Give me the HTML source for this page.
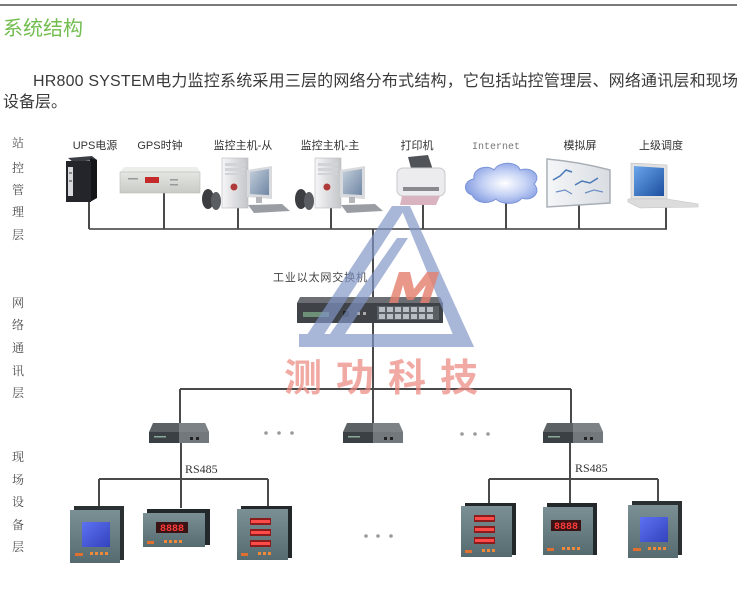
<!DOCTYPE html>
<html><head><meta charset="utf-8">
<style>
html,body{margin:0;padding:0;background:#fff;}
svg{display:block;}
.s{font-family:"Liberation Sans","Noto Sans CJK SC",sans-serif;}
.sr{font-family:"Liberation Serif","Noto Serif CJK SC",serif;}
.m{font-family:"Liberation Mono","Noto Sans CJK SC",monospace;}
</style></head><body>
<svg width="743" height="600" viewBox="0 0 743 600" xmlns="http://www.w3.org/2000/svg">
<defs>
 <linearGradient id="gTower" x1="0" x2="1"><stop offset="0" stop-color="#f6f6f8"/><stop offset="1" stop-color="#c4c5c8"/></linearGradient>
 <linearGradient id="gScreen" x1="0" y1="0" x2="1" y2="1"><stop offset="0" stop-color="#c3cfdc"/><stop offset="1" stop-color="#6f86a3"/></linearGradient>
 <radialGradient id="gCloud" cx="0.55" cy="0.5" r="0.6"><stop offset="0" stop-color="#ffffff"/><stop offset="0.5" stop-color="#c5d2f5"/><stop offset="1" stop-color="#7f98e0"/></radialGradient>
 <linearGradient id="gLap" x1="0" y1="0" x2="1" y2="1"><stop offset="0" stop-color="#6aa6ea"/><stop offset="1" stop-color="#1d4fa0"/></linearGradient>
 <linearGradient id="gBezel" x1="0" y1="0" x2="0" y2="1"><stop offset="0" stop-color="#7a9095"/><stop offset="1" stop-color="#566b70"/></linearGradient>
 <linearGradient id="gLcd" x1="0" y1="0" x2="1" y2="1"><stop offset="0" stop-color="#5d72f2"/><stop offset="1" stop-color="#3442bd"/></linearGradient>
 <linearGradient id="gGps" x1="0" y1="0" x2="0" y2="1"><stop offset="0" stop-color="#e4e6e2"/><stop offset="1" stop-color="#c9cbc6"/></linearGradient>
 <linearGradient id="gWall" x1="0" y1="0" x2="1" y2="0"><stop offset="0" stop-color="#f4f6f8"/><stop offset="1" stop-color="#d9dde2"/></linearGradient>
</defs>

<!-- header -->
<line x1="0" y1="5" x2="737" y2="5" stroke="#7a7a7a" stroke-width="2"/>
<text x="3" y="35" class="s" font-size="20" fill="#72bd4f">系统结构</text>
<text x="33" y="86" class="s" font-size="16" fill="#3a3a3a" textLength="705" lengthAdjust="spacing">HR800 SYSTEM电力监控系统采用三层的网络分布式结构，它包括站控管理层、网络通讯层和现场</text>
<text x="3" y="107" class="s" font-size="16" fill="#3a3a3a">设备层。</text>

<!-- left layer labels -->
<g class="sr" font-size="12" fill="#4a4a4a" text-anchor="middle">
 <text x="18" y="147">站</text><text x="18" y="172">控</text><text x="18" y="194">管</text><text x="18" y="216">理</text><text x="18" y="239">层</text>
 <text x="18" y="307">网</text><text x="18" y="329">络</text><text x="18" y="352">通</text><text x="18" y="375">讯</text><text x="18" y="397">层</text>
 <text x="18" y="461">现</text><text x="18" y="484">场</text><text x="18" y="506">设</text><text x="18" y="529">备</text><text x="18" y="551">层</text>
</g>

<!-- device labels -->
<g class="s" font-size="11" fill="#333" text-anchor="middle">
 <text x="95" y="149">UPS电源</text>
 <text x="160" y="149">GPS时钟</text>
 <text x="243" y="149">监控主机-从</text>
 <text x="330" y="149">监控主机-主</text>
 <text x="417" y="149">打印机</text>
 <text x="580" y="149">模拟屏</text>
 <text x="661" y="149">上级调度</text>
</g>
<text x="496" y="149" class="m" font-size="10" fill="#777" text-anchor="middle">Internet</text>

<!-- connector lines -->
<g stroke="#4a4a4a" stroke-width="2" fill="none">
 <line x1="89" y1="229" x2="667" y2="229" stroke="#6a6a6a"/>
 <line x1="89" y1="200" x2="89" y2="229"/>
 <line x1="164" y1="193" x2="164" y2="229"/>
 <line x1="238" y1="208" x2="238" y2="229"/>
 <line x1="331" y1="208" x2="331" y2="229"/>
 <line x1="423" y1="204" x2="423" y2="229"/>
 <line x1="506" y1="200" x2="506" y2="229"/>
 <line x1="579" y1="204" x2="579" y2="229"/>
 <line x1="666" y1="206" x2="666" y2="229"/>
 <line x1="373" y1="229" x2="373" y2="424"/>
 <line x1="180" y1="389" x2="571" y2="389"/>
 <line x1="180" y1="389" x2="180" y2="424"/>
 <line x1="571" y1="389" x2="571" y2="424"/>
 <line x1="181" y1="443" x2="181" y2="508"/>
 <line x1="99" y1="479" x2="268" y2="479"/>
 <line x1="99" y1="479" x2="99" y2="510"/>
 <line x1="268" y1="479" x2="268" y2="508"/>
 <line x1="570" y1="443" x2="570" y2="505"/>
 <line x1="489" y1="479" x2="658" y2="479"/>
 <line x1="489" y1="479" x2="489" y2="505"/>
 <line x1="658" y1="479" x2="658" y2="505"/>
</g>

<!-- UPS -->
<g>
 <polygon points="68,158 92,156 97,160 73,162" fill="#3c3e46"/>
 <polygon points="90,158 97,160 97,198 90,202" fill="#15161a"/>
 <rect x="66" y="161" width="25" height="41" fill="#23252b"/>
 <rect x="68" y="167" width="5" height="29" fill="#d8dade"/>
 <rect x="69" y="172" width="3" height="2" fill="#888"/>
 <rect x="69" y="180" width="3" height="2" fill="#888"/>
</g>
<!-- GPS -->
<g>
 <polygon points="124,167 197,167 200,172 120,172" fill="#eceeea"/>
 <rect x="120" y="172" width="80" height="21" fill="url(#gGps)" stroke="#b8bab5" stroke-width="0.6"/>
 <rect x="145" y="177" width="14" height="6" fill="#c42a2a"/>
 <rect x="128" y="178" width="10" height="1.5" fill="#999"/>
 <rect x="170" y="179" width="8" height="1.5" fill="#999"/>
 <rect x="170" y="184" width="8" height="1.5" fill="#999"/>
</g>
<!-- PCs -->
<g id="pc">
 <ellipse cx="208" cy="199" rx="6" ry="10" fill="#3b3d40"/>
 <ellipse cx="216" cy="201" rx="5" ry="9" fill="#5a5d61"/>
 <rect x="222" y="158" width="26" height="50" fill="url(#gTower)" stroke="#b8b9bd" stroke-width="0.6"/>
 <rect x="225" y="163" width="20" height="3" fill="#d2d3d7"/>
 <rect x="225" y="168" width="20" height="3" fill="#d2d3d7"/>
 <rect x="225" y="173" width="20" height="2" fill="#d2d3d7"/>
 <circle cx="234" cy="187" r="4" fill="#b03a3a" stroke="#e2e2e2"/>
 <polygon points="247,170 272,166 272,199 247,197" fill="#d8dadd"/>
 <polygon points="250,172 269,169 269,195 250,194" fill="url(#gScreen)"/>
 <rect x="256" y="197" width="6" height="6" fill="#b5b6ba"/>
 <polygon points="248,205 282,204 290,211 254,213" fill="#9a9ea4"/>
</g>
<use href="#pc" x="93" y="0"/>
<!-- printer -->
<g>
 <polygon points="408,157 428,155 433,170 412,172" fill="#505458"/>
 <rect x="397" y="168" width="48" height="28" rx="6" fill="#ececee" stroke="#c8c8cc"/>
 <rect x="403" y="187" width="36" height="4" fill="#8a8a8e"/>
 <polygon points="402,196 440,196 436,205 400,205" fill="#d9b3bf"/>
</g>
<!-- cloud -->
<path d="M472,195 C462,192 464,180 474,179 C472,168 488,164 494,170 C500,160 518,162 520,170 C532,166 542,176 534,184 C542,192 532,202 522,198 C516,206 500,204 496,199 C488,205 476,203 472,195 Z" fill="url(#gCloud)" stroke="#7b94d8" stroke-width="1"/>
<!-- wall screen -->
<g>
 <path d="M547,159 Q580,162 610,170 L610,203 Q580,205 547,207 Z" fill="url(#gWall)" stroke="#a9afb6" stroke-width="1.5"/>
 <polyline points="553,180 560,176 566,170 572,172" fill="none" stroke="#4a79b8" stroke-width="1.5"/>
 <polyline points="575,185 582,181 590,183 598,178" fill="none" stroke="#4a79b8" stroke-width="1.5"/>
 <polyline points="556,192 565,190 572,194" fill="none" stroke="#6b8fc4" stroke-width="1.2"/>
 <polyline points="585,193 594,190 603,192" fill="none" stroke="#6b8fc4" stroke-width="1.2"/>
</g>
<!-- laptop -->
<g>
 <polygon points="631,163 667,165 667,199 631,199" fill="#e0e0e0" stroke="#bdbdbd" stroke-width="0.6"/>
 <polygon points="634,166 664,168 664,196 634,196" fill="url(#gLap)"/>
 <polygon points="628,199 667,199 698,204 698,207 640,208 628,202" fill="#dcdcdc" stroke="#c2c2c2" stroke-width="0.6"/>
</g>

<!-- switch -->
<g>
 <polygon points="300,297 440,297 443,303 297,303" fill="#6b6f73"/>
 <rect x="297" y="303" width="146" height="20" fill="#3f4347"/>
 <rect x="377" y="306" width="62" height="14" fill="#5a5f63"/>
 <g fill="#b9bec4">
  <rect x="379" y="307" width="6" height="5"/><rect x="387" y="307" width="6" height="5"/><rect x="395" y="307" width="6" height="5"/><rect x="403" y="307" width="6" height="5"/><rect x="411" y="307" width="6" height="5"/><rect x="419" y="307" width="6" height="5"/><rect x="427" y="307" width="6" height="5"/>
  <rect x="379" y="314" width="6" height="5"/><rect x="387" y="314" width="6" height="5"/><rect x="395" y="314" width="6" height="5"/><rect x="403" y="314" width="6" height="5"/><rect x="411" y="314" width="6" height="5"/><rect x="419" y="314" width="6" height="5"/><rect x="427" y="314" width="6" height="5"/>
 </g>
 <rect x="303" y="312" width="26" height="5" fill="#6e8f78"/>
 <rect x="343" y="311" width="6" height="6" fill="#222"/>
 <rect x="357" y="312" width="3" height="3" fill="#aaa"/><rect x="363" y="312" width="3" height="3" fill="#aaa"/>
</g>
<text x="273" y="281" class="s" font-size="11" fill="#444" textLength="94" lengthAdjust="spacing">工业以太网交换机</text>

<!-- serial servers -->
<g id="srv">
 <polygon points="153,423 205,423 209,432 149,432" fill="#5b6164"/>
 <rect x="149" y="432" width="60" height="11" fill="#3b4044"/>
 <polygon points="179,423 205,423 209,432 179,432" fill="#7c8286"/>
 <rect x="179" y="432" width="30" height="11" fill="#72787c"/>
 <rect x="154" y="436" width="12" height="1.5" fill="#8a9"/>
 <rect x="190" y="437" width="3" height="3" fill="#222"/><rect x="196" y="437" width="3" height="3" fill="#222"/>
</g>
<use href="#srv" x="194" y="0"/>
<use href="#srv" x="394" y="0"/>

<!-- dots -->
<g fill="#9a9a9a">
 <circle cx="266" cy="433" r="1.8"/><circle cx="279" cy="433" r="1.8"/><circle cx="292" cy="433" r="1.8"/>
 <circle cx="462" cy="434" r="1.8"/><circle cx="475" cy="434" r="1.8"/><circle cx="488" cy="434" r="1.8"/>
 <circle cx="366" cy="536" r="1.8"/><circle cx="378" cy="536" r="1.8"/><circle cx="391" cy="536" r="1.8"/>
</g>

<!-- RS485 labels -->
<text x="185" y="473" class="sr" font-size="12" fill="#333">RS485</text>
<text x="575" y="472" class="sr" font-size="12" fill="#333">RS485</text>

<!-- meters: LCD square -->
<g id="mLcd">
 <rect x="74" y="506" width="50" height="54" fill="#2b3133"/>
 <rect x="70" y="510" width="50" height="53" fill="url(#gBezel)"/>
 <rect x="82" y="522" width="28" height="25" fill="url(#gLcd)"/>
 <rect x="75" y="553" width="8" height="3" fill="#e07030"/>
 <rect x="90" y="552" width="3" height="3" fill="#f08a3a"/><rect x="95" y="552" width="3" height="3" fill="#f08a3a"/><rect x="100" y="552" width="3" height="3" fill="#f08a3a"/><rect x="105" y="552" width="3" height="3" fill="#f08a3a"/>
</g>
<use href="#mLcd" x="558" y="-5"/>
<!-- meter single row -->
<g>
 <rect x="147" y="509" width="63" height="36" fill="#23282a"/>
 <rect x="143" y="513" width="62" height="34" fill="url(#gBezel)"/>
 <rect x="156" y="522" width="32" height="11" fill="#3a1414"/>
 <text x="172" y="531" class="m" font-size="10" font-weight="bold" fill="#ff3a3a" text-anchor="middle">8888</text>
 <rect x="147" y="541" width="7" height="3" fill="#e07030"/>
 <rect x="164" y="540" width="3" height="3" fill="#f08a3a"/><rect x="169" y="540" width="3" height="3" fill="#f08a3a"/><rect x="174" y="540" width="3" height="3" fill="#f08a3a"/><rect x="179" y="540" width="3" height="3" fill="#f08a3a"/>
</g>
<g>
 <rect x="547" y="503" width="50" height="52" fill="#23282a"/>
 <rect x="543" y="507" width="50" height="48" fill="url(#gBezel)"/>
 <rect x="551" y="520" width="30" height="11" fill="#3a1414"/>
 <text x="566" y="529" class="m" font-size="10" font-weight="bold" fill="#ff3a3a" text-anchor="middle">8888</text>
 <rect x="547" y="548" width="7" height="3" fill="#e07030"/>
 <rect x="562" y="547" width="3" height="3" fill="#f08a3a"/><rect x="567" y="547" width="3" height="3" fill="#f08a3a"/><rect x="572" y="547" width="3" height="3" fill="#f08a3a"/><rect x="577" y="547" width="3" height="3" fill="#f08a3a"/>
</g>
<!-- meter 3 rows -->
<g id="m3">
 <rect x="241" y="506" width="51" height="52" fill="#23282a"/>
 <rect x="237" y="509" width="51" height="51" fill="url(#gBezel)"/>
 <rect x="250" y="518" width="21" height="7" fill="#8a1c1c"/>
 <rect x="250" y="529" width="21" height="7" fill="#8a1c1c"/>
 <rect x="250" y="540" width="21" height="7" fill="#8a1c1c"/>
 <g fill="#ff4a4a"><rect x="251" y="520" width="19" height="3"/><rect x="251" y="531" width="19" height="3"/><rect x="251" y="542" width="19" height="3"/></g>
 <rect x="241" y="553" width="7" height="3" fill="#e07030"/>
 <rect x="258" y="552" width="3" height="3" fill="#f08a3a"/><rect x="263" y="552" width="3" height="3" fill="#f08a3a"/><rect x="268" y="552" width="3" height="3" fill="#f08a3a"/>
</g>
<use href="#m3" x="224" y="-3"/>

<!-- watermark -->
<g opacity="0.68" fill="#8094c6">
 <polygon points="392,206 407,206 316,347 299,347"/>
 <polygon points="400,206 410,206 474,347 458,347"/>
 <polygon points="397,238 408,238 345,334 330,334"/>
 <polygon points="299,334 468,334 474,347 299,347"/>
</g>
<polygon opacity="0.82" fill="#e4806f" points="389,303 399,272 410,272 414,289 427,272 439,272 429,303 420,303 426,285 413,300 407,300 403,285 398,303"/>
<text x="284" y="391" class="s" font-size="38" font-weight="bold" fill="#ec8a80" opacity="0.72" textLength="194" lengthAdjust="spacing">测功科技</text>
</svg>
</body></html>
